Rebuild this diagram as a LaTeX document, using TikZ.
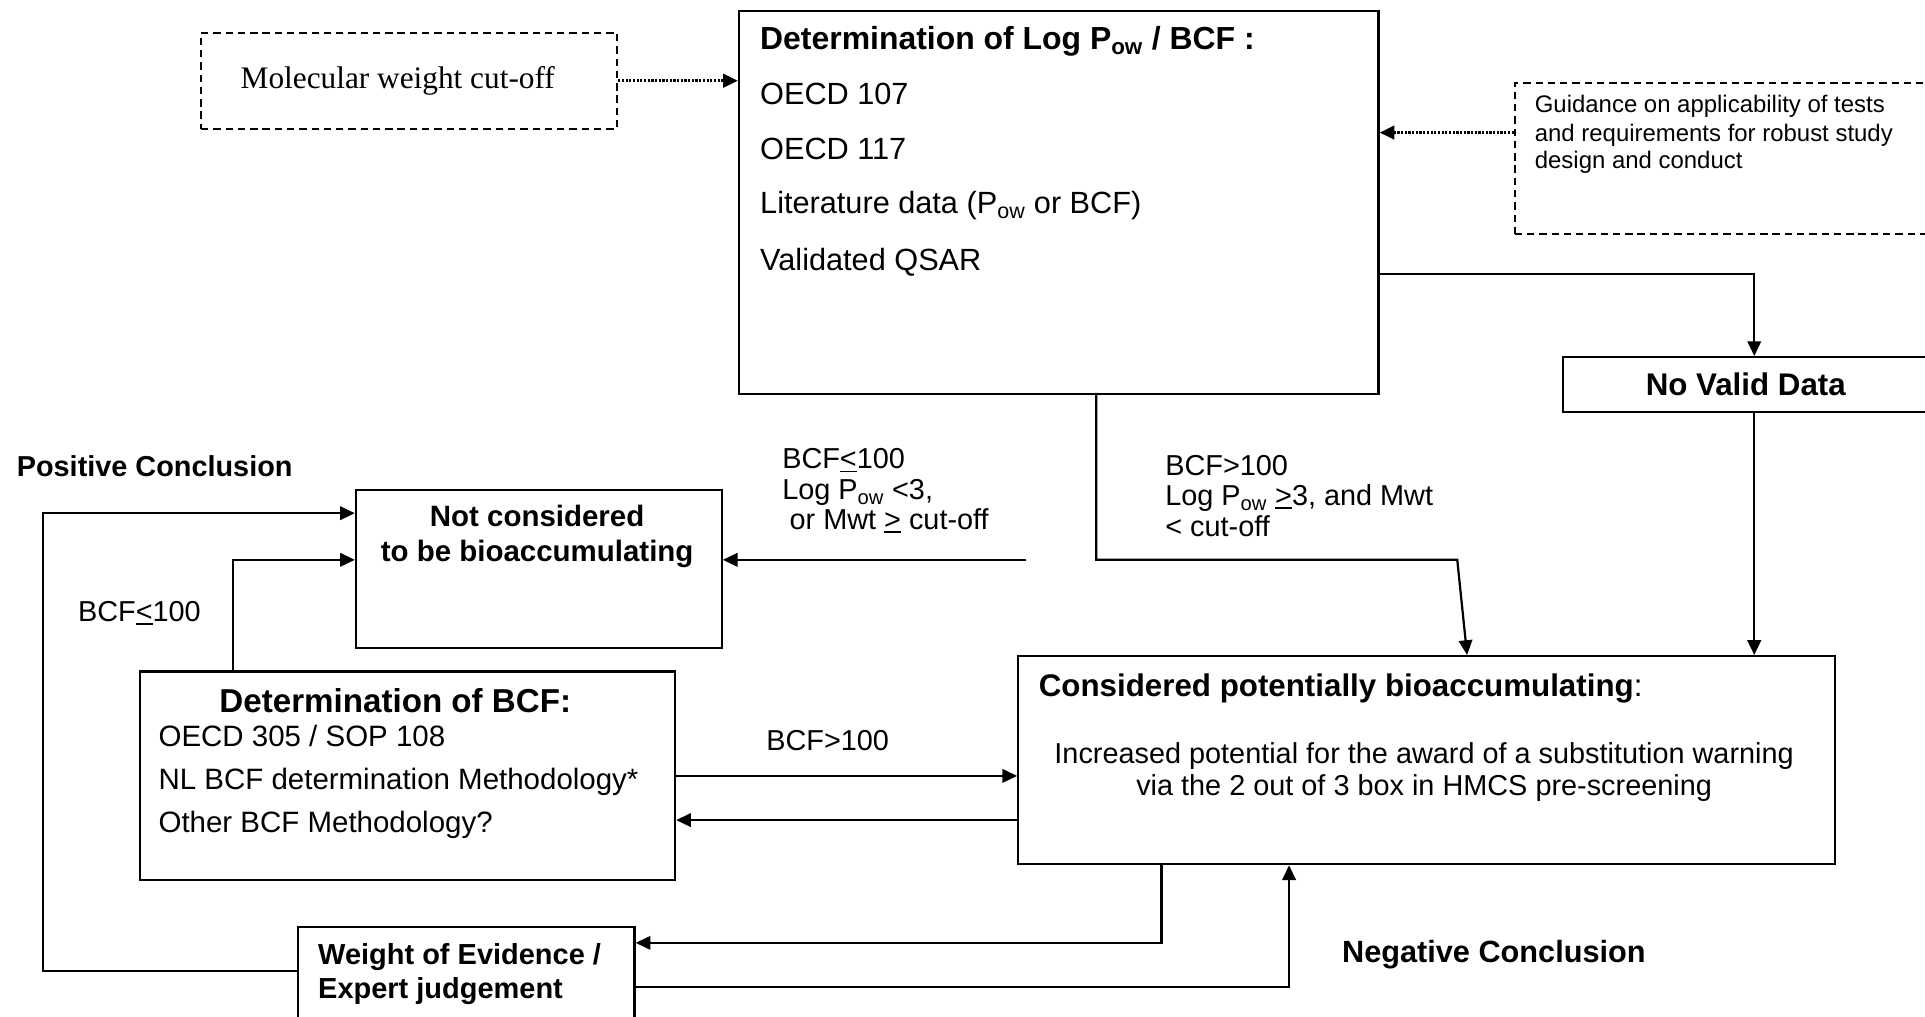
\documentclass[tikz,border=0pt]{standalone}
\usepackage{fontspec}
\setmainfont{Liberation Sans}
\newfontfamily\timesf{Liberation Serif}
\usetikzlibrary{arrows.meta}
\newcommand\fsz[1]{\fontsize{#1}{#1}\selectfont}
\newcommand\myul[1]{\leavevmode\setbox0\hbox{#1}\rlap{\rule[-2.8pt]{\wd0}{1.5pt}}\box0\relax}
\begin{document}
\begin{tikzpicture}[x=1pt,y=-1pt,
  box/.style={draw, line width=1.8pt, inner sep=0pt, anchor=north west},
  dbox/.style={draw, line width=1.5pt, dash pattern=on 6pt off 4pt, inner sep=0pt, anchor=north west},
  txt/.style={inner sep=0pt, anchor=base west},
  ctxt/.style={inner sep=0pt, anchor=base},
  conn/.style={line width=1.8pt, -{Triangle[length=12pt,width=11pt]}},
  dotconn/.style={line width=2.4pt, dash pattern=on 1.8pt off 1.2pt, -{Triangle[length=12pt,width=11pt]}}]
\useasboundingbox (0,0) rectangle (1568,828);
\clip (0,0) rectangle (1568,828);
% boxes
\node[dbox, minimum width=339pt, minimum height=78pt] (mw) at (163,26) {};
\node[box, minimum width=521pt, minimum height=312pt] (main) at (601,8) {};
\node[dbox, minimum width=400pt, minimum height=123pt] (guid) at (1233,67) {};
\node[box, minimum width=312pt, minimum height=45pt] (nvd) at (1272,290) {};
\node[box, minimum width=298pt, minimum height=129pt] (notc) at (289,398) {};
\node[box, minimum width=436pt, minimum height=170pt] (dbcf) at (113,546) {};
\node[box, minimum width=665.5pt, minimum height=169.5pt] (cons) at (828.5,533.5) {};
\node[box, minimum width=274pt, minimum height=100pt] (woe) at (242,754) {};
% texts
\node[ctxt, font=\timesf\fsz{25.5}] (mwt) at (324,72) {Molecular weight cut-off};
\node[txt, font=\fsz{26}\bfseries] (m1) at (619,40.7) {Determination of Log P\textsubscript{ow} / BCF :};
\node[txt, font=\fsz{25}] (m2) at (619,85.5) {OECD 107};
\node[txt, font=\fsz{25}] (m3) at (619,130) {OECD 117};
\node[txt, font=\fsz{25}] (m4) at (619,174) {Literature data (P\textsubscript{ow} or BCF)};
\node[txt, font=\fsz{25}] (m5) at (619,220) {Validated QSAR};
\node[txt, font=\fsz{19.5}] (g1) at (1250,92) {Guidance on applicability of tests};
\node[txt, font=\fsz{19.5}] (g2) at (1250,115) {and requirements for robust study};
\node[txt, font=\fsz{19.5}] (g3) at (1250,137) {design and conduct};
\node[ctxt, font=\fsz{25.5}\bfseries] (nvdt) at (1422,322) {No Valid Data};
\node[txt, font=\fsz{23.5}] (la1) at (637,382) {BCF\myul{<}100};
\node[txt, font=\fsz{23.5}] (la2) at (637,407) {Log P\textsubscript{ow} <3,};
\node[txt, font=\fsz{23.5}] (la3) at (643,431) {or Mwt \myul{>} cut-off};
\node[txt, font=\fsz{23.5}] (lb1) at (949,387) {BCF>100};
\node[txt, font=\fsz{23.5}] (lb2) at (949,412) {Log P\textsubscript{ow} \myul{>}3, and Mwt};
\node[txt, font=\fsz{23.5}] (lb3) at (949,437) {< cut-off};
\node[txt, font=\fsz{23.5}\bfseries] (pos) at (13.5,388) {Positive Conclusion};
\node[ctxt, font=\fsz{24}\bfseries] (nc1) at (437.5,429) {Not considered};
\node[ctxt, font=\fsz{24}\bfseries] (nc2) at (437.5,457.5) {to be bioaccumulating};
\node[txt, font=\fsz{23.5}] (lc) at (63.4,506) {BCF\myul{<}100};
\node[ctxt, font=\fsz{27}\bfseries] (d1) at (322,580) {Determination of BCF:};
\node[txt, font=\fsz{24}] (d2) at (129,608) {OECD 305 / SOP 108};
\node[txt, font=\fsz{24}] (d3) at (129,643) {NL BCF determination Methodology*};
\node[txt, font=\fsz{24}] (d4) at (129,678) {Other BCF Methodology?};
\node[txt, font=\fsz{23.5}] (ld) at (624,611) {BCF>100};
\node[txt, font=\fsz{25.5}] (c1) at (846,567) {\textbf{Considered potentially bioaccumulating}:};
\node[ctxt, font=\fsz{23.5}] (c2) at (1160,622) {Increased potential for the award of a substitution warning};
\node[ctxt, font=\fsz{23.5}] (c3) at (1160,648) {via the 2 out of 3 box in HMCS pre-screening};
\node[txt, font=\fsz{23.6}\bfseries] (w1t) at (259,786) {Weight of Evidence /};
\node[txt, font=\fsz{23.6}\bfseries] (w2t) at (259,813) {Expert judgement};
\node[txt, font=\fsz{25}\bfseries] (neg) at (1093,784) {Negative Conclusion};
% coordinates
\coordinate (gA) at (1233,108);
\coordinate (mR) at (1122,223);
\coordinate (mB) at (893,320);
\coordinate (jn) at (893,456);
\coordinate (jr) at (1187,456);
\coordinate (ct) at (1195,533.5);
\coordinate (lg) at (836,456);
\coordinate (yL1) at (35,791);
\coordinate (yL2) at (35,418);
\coordinate (iA) at (190,456);
\coordinate (b1) at (0,632);
\coordinate (b2) at (0,668);
\coordinate (wa) at (946,768);
\coordinate (wb) at (1050,804);
% connectors
\draw[dotconn] (mw.east) -- (mw.east -| main.west);
\draw[dotconn] (gA) -- (gA -| main.east);
\draw[conn] (mR) -| (nvd.north);
\draw[conn] (nvd.south) -- (nvd.south |- cons.north);
\draw[conn] (mB) -- (jn) -- (jr) -- (ct);
\draw[conn] (lg) -- (lg -| notc.east);
\draw[conn] (yL1 -| woe.west) -- (yL1) -- (yL2) -- (yL2 -| notc.west);
\draw[conn] (iA |- dbcf.north) -- (iA) -- (iA -| notc.west);
\draw[conn] (b1 -| dbcf.east) -- (b1 -| cons.west);
\draw[conn] (b2 -| cons.west) -- (b2 -| dbcf.east);
\draw[conn] (wa |- cons.south) -- (wa) -- (wa -| woe.east);
\draw[conn] (wb -| woe.east) -- (wb) -- (wb |- cons.south);
\end{tikzpicture}
\end{document}
